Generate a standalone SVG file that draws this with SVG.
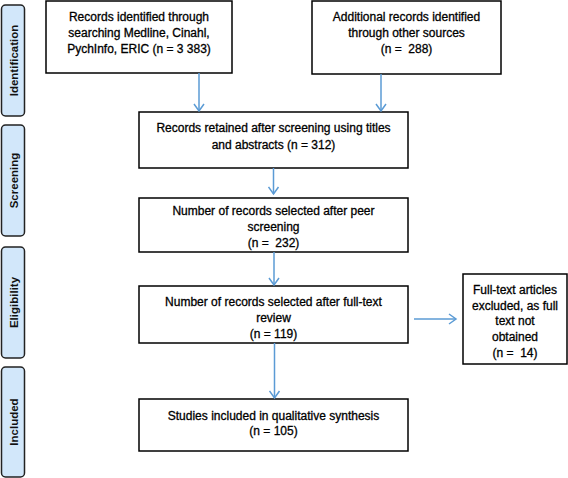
<svg xmlns="http://www.w3.org/2000/svg" width="568" height="478" viewBox="0 0 568 478">
<defs>
<marker id="ah" markerWidth="12" markerHeight="12" refX="10" refY="6" orient="auto" markerUnits="userSpaceOnUse">
<path d="M3,1 L10,6 L3,11" fill="none" stroke="#5b9bd5" stroke-width="1.5"/>
</marker>
</defs>
<style>
.box{fill:#fff;stroke:#000;stroke-width:1.5}
.side{fill:#d2e7fa;stroke:#222;stroke-width:1.5}
.t{font-family:"Liberation Sans",Arial,sans-serif;font-size:12px;fill:#000;stroke:#000;stroke-width:0.3;text-anchor:middle;white-space:pre}
.s{font-family:"Liberation Sans",Arial,sans-serif;font-size:11.5px;font-weight:bold;fill:#111;text-anchor:middle}
.c{stroke:#5b9bd5;stroke-width:1.5;fill:none;marker-end:url(#ah)}
</style>
<rect width="568" height="478" fill="#fff"/>
<g id="phase-identification"><rect class="side" x="1.5" y="5" width="23" height="111" rx="4"/><text class="s" transform="translate(17.5,60.5) rotate(-90)">Identification</text></g>
<g id="phase-screening"><rect class="side" x="1.5" y="125" width="23" height="111" rx="4"/><text class="s" transform="translate(17.5,180.5) rotate(-90)">Screening</text></g>
<g id="phase-eligibility"><rect class="side" x="1.5" y="247" width="23" height="111" rx="4"/><text class="s" transform="translate(17.5,302.5) rotate(-90)">Eligibility</text></g>
<g id="phase-included"><rect class="side" x="1.5" y="367" width="23" height="110" rx="4"/><text class="s" transform="translate(17.5,422) rotate(-90)">Included</text></g>

<g id="n-identified"><rect class="box" x="46" y="1" width="186" height="72"/>
<text class="t" x="139" y="21">Records identified through</text>
<text class="t" x="139" y="37">searching Medline, Cinahl,</text>
<text class="t" x="139" y="53">PychInfo, ERIC (n = 3 383)</text></g>

<g id="n-additional"><rect class="box" x="312" y="1" width="189" height="73"/>
<text class="t" x="406.5" y="21">Additional records identified</text>
<text class="t" x="406.5" y="37">through other sources</text>
<text class="t" x="406.5" y="53">(n =  288)</text></g>

<g id="n-retained"><rect class="box" x="139" y="112" width="269" height="56"/>
<text class="t" x="273.5" y="132">Records retained after screening using titles</text>
<text class="t" x="273.5" y="149">and abstracts (n = 312)</text></g>

<g id="n-peer"><rect class="box" x="139" y="198" width="269" height="54"/>
<text class="t" x="273.5" y="215">Number of records selected after peer</text>
<text class="t" x="273.5" y="231">screening</text>
<text class="t" x="273.5" y="247">(n =  232)</text></g>

<g id="n-fulltext"><rect class="box" x="139" y="286" width="269" height="57"/>
<text class="t" x="273.5" y="306">Number of records selected after full-text</text>
<text class="t" x="273.5" y="322">review</text>
<text class="t" x="273.5" y="338">(n = 119)</text></g>

<g id="n-included"><rect class="box" x="139" y="399" width="269" height="52"/>
<text class="t" x="273.5" y="420">Studies included in qualitative synthesis</text>
<text class="t" x="273.5" y="435">(n = 105)</text></g>

<g id="n-excluded"><rect class="box" x="463" y="274" width="104" height="90"/>
<text class="t" x="515" y="294">Full-text articles</text>
<text class="t" x="515" y="310">excluded, as full</text>
<text class="t" x="515" y="325">text not</text>
<text class="t" x="515" y="341">obtained</text>
<text class="t" x="515" y="357">(n =  14)</text></g>

<g id="connectors">
<line class="c" x1="199" y1="73" x2="199" y2="111"/>
<line class="c" x1="381" y1="74" x2="381" y2="111"/>
<line class="c" x1="273.5" y1="168" x2="273.5" y2="194"/>
<line class="c" x1="274" y1="252" x2="274" y2="285"/>
<line class="c" x1="274.5" y1="343" x2="274.5" y2="398"/>
<line class="c" x1="414" y1="319" x2="456" y2="319"/>
</g>
</svg>
